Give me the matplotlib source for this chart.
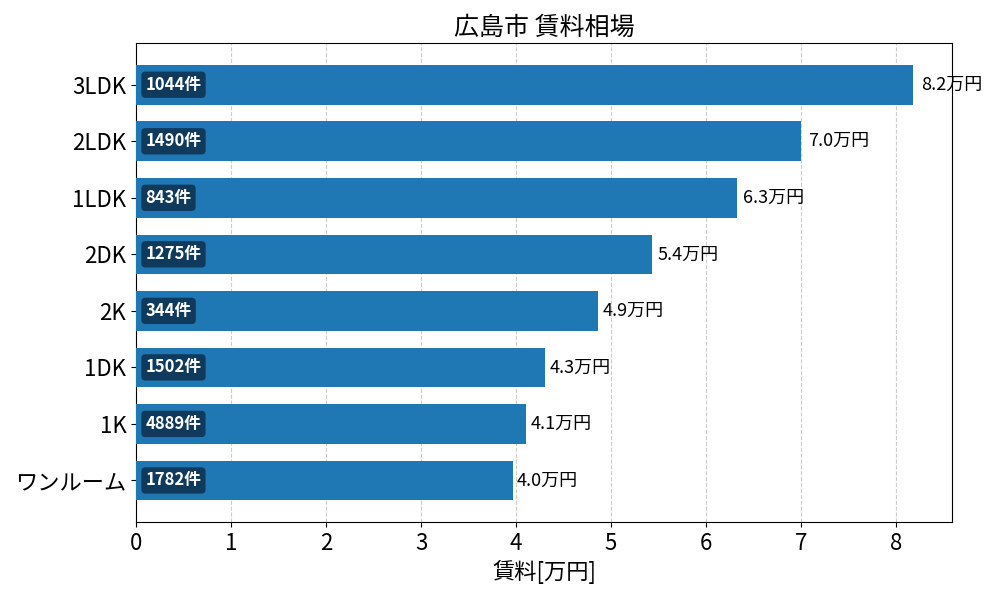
import matplotlib
matplotlib.use("Agg")
import matplotlib.pyplot as plt
import numpy as np

plt.rcParams["font.family"] = ["Noto Sans CJK JP", "DejaVu Sans"]

# データ（下から順）
madori = ["ワンルーム", "1K", "1DK", "2K", "2DK", "1LDK", "2LDK", "3LDK"]
rent = [3.97, 4.11, 4.31, 4.86, 5.43, 6.33, 7.00, 8.18]
counts = [1782, 4889, 1502, 344, 1275, 843, 1490, 1044]

fig, ax = plt.subplots(figsize=(10, 6))
y = np.arange(len(madori))
bars = ax.barh(y, rent, height=0.7, color="#1f77b4", zorder=3)

for bar, v, n in zip(bars, rent, counts):
    yc = bar.get_y() + bar.get_height() / 2
    ax.text(v * 1.01, yc, f"{v:.1f}万円", va="center", ha="left", fontsize=13)
    ax.text(0.1, yc, f"{n}件", va="center", ha="left", fontsize=12,
            color="white", fontweight="bold", zorder=4,
            bbox=dict(boxstyle="round,pad=0.25", fc="#0f3a5c", ec="none"))

ax.set_yticks(y)
ax.set_yticklabels(madori, fontsize=16)
ax.tick_params(axis="x", labelsize=16)
ax.set_xlim(0, max(rent) * 1.05)
ax.set_xlabel("賃料[万円]", fontsize=16)
ax.set_title("広島市 賃料相場", fontsize=18)
ax.grid(axis="x", linestyle="--", color="#cccccc", zorder=0)

plt.subplots_adjust(left=0.136, right=0.952, top=0.928, bottom=0.13)
plt.savefig("out.png", dpi=100)
plt.close()
